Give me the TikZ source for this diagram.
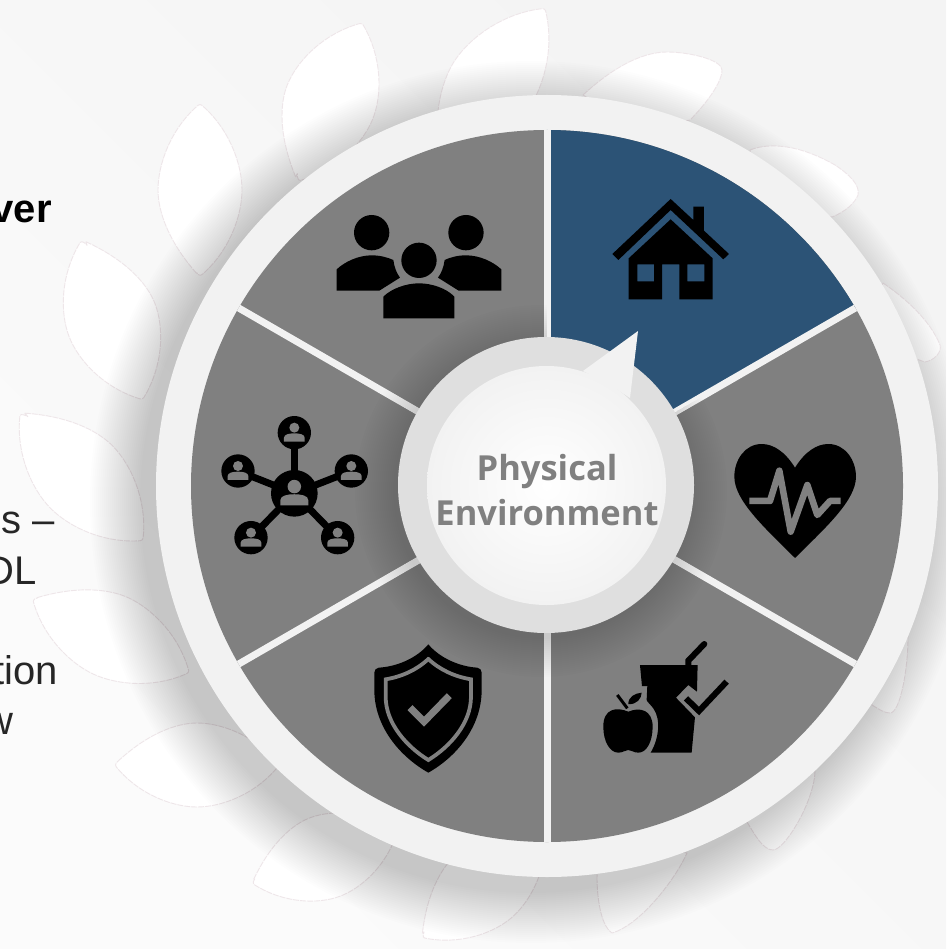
\documentclass[tikz,border=0pt]{standalone}
\usepackage{fontspec}
\setmainfont{Liberation Sans}
\newfontfamily\centerfont{Open Sans}
\definecolor{sectorgray}{HTML}{808080}
\definecolor{sectorblue}{HTML}{2C5376}
\definecolor{ringcol}{HTML}{F2F2F2}
\definecolor{hubcol}{HTML}{DFDFDF}
\definecolor{petaledge}{HTML}{EEE6E9}
\tikzset{
  petal/.style={fill=white,draw=petaledge,line width=0.9pt,dash pattern=on 6pt off 1pt,line join=round},
  sidetext/.style={anchor=base east,inner sep=0pt,text=black!85,font=\fontsize{40}{48}\selectfont},
}
\newcommand{\leafshape}[5]{%
  \path[petal,shift={(#1,#2)},rotate=#3,xscale=#4,yscale=#5]
   (-.97,-.08) .. controls (-.6,-.75) and (-.25,-1) .. (0,-1) .. controls (.3,-1) and (.7,-.7) .. (.97,-.08)
   .. controls (1,-.02) and (1,.02) .. (.97,.08) .. controls (.7,.7) and (.3,1) .. (0,1)
   .. controls (-.3,1) and (-.7,.7) .. (-.97,.08) .. controls (-1,.02) and (-1,-.02) .. cycle;}
\newcommand{\netperson}[3]{%
  \begin{scope}[shift={(#1,#2)},scale=#3]
   \fill[sectorgray] (0,-15) circle[radius=15];
   \fill[sectorgray] (-31,27) -- (-31,15) .. controls (-31,5) and (-15,2) .. (0,2) .. controls (15,2) and (31,5) .. (31,15) -- (31,27) -- cycle;
  \end{scope}}
\begin{document}
\begin{tikzpicture}[x=1pt,y=-1pt]
\useasboundingbox (0,0) rectangle (946,949);
\clip (0,0) rectangle (946,949);
\shade[left color=black!4.5,right color=black!1.5,shading angle=-45] (0,0) rectangle (946,949);
% petals
\leafshape{200}{190}{90}{86}{42}
\leafshape{112}{320}{-69}{85}{46}
\leafshape{81.5}{477}{-46}{88}{44}
\leafshape{111}{636}{-25}{86}{42}
\leafshape{197}{765}{0}{82}{42}
\leafshape{325}{857}{20}{77}{42}
\leafshape{484}{886}{40}{80}{42}
\leafshape{330}{102}{68}{85}{46}
\leafshape{492}{84}{55}{92}{44}
\path[petal] (597,877) .. controls (597,895) and (600,925) .. (612,933) .. controls (640,925) and (675,880) .. (687,853) -- (600,840) -- cycle;
\path[petal] (747,822) .. controls (755,835) and (763,850) .. (773,850) .. controls (785,850) and (815,800) .. (815,770) -- (760,770) -- cycle;
\path[petal] (872,705) .. controls (880,710) and (885,713) .. (890,713) .. controls (900,713) and (908,670) .. (908,637) -- (860,640) -- cycle;
\path[petal] (883,283) .. controls (905,298) and (930,320) .. (940,345) .. controls (942,352) and (935,360) .. (925,362) -- (860,340) -- cycle;
\path[petal] (750,150) .. controls (770,142) and (800,145) .. (835,165) .. controls (850,175) and (860,185) .. (858,195) .. controls (855,203) and (845,212) .. (832,217) -- (760,200) -- cycle;
\path[petal] (583,95) .. controls (610,70) and (640,52) .. (667,52) .. controls (690,52) and (722,60) .. (722,70) .. controls (722,85) and (700,110) .. (690,120) -- (640,130) -- cycle;
% side text
\node[sidetext,font=\fontsize{40}{48}\selectfont\bfseries,text=black] (tover) at (52,223) {ver};
\node[sidetext] (tes) at (55,533) {es –};
\node[sidetext] (tdl) at (37,584) {DL};
\node[sidetext] (ttion) at (58,684) {tion};
\node[sidetext] (tw) at (14,734) {w};
% ring shadow
\foreach \r in {391,393,...,441}{\fill[black,opacity=.0075] (531,502) circle[radius=\r];}
% ring
\fill[ringcol] (547,486) circle[radius=391];
% pie
\fill[sectorgray] (547,486) circle[radius=356];
\begin{scope}
 \clip (547,486) circle[radius=356];
 \fill[sectorblue] (547,486) -- (893,286) -- (893,100) -- (547,100) -- cycle;
 \foreach \a in {-90,-30,30,90,150,210}{\draw[ringcol,line width=7pt] (547,486) -- ++(\a:360);}
 \begin{scope}
  \clip (547,486) -- (547,0) -- (0,0) -- (0,949) -- (946,949) -- (946,256) -- cycle;
  \foreach \r in {148,150,...,186}{\fill[black,opacity=.006] (541,491) circle[radius=\r];}
 \end{scope}
\end{scope}
% hub
\fill[hubcol] (546,485) circle[radius=148];
\shade[inner color=white,outer color=ringcol] (546.5,485.5) circle[radius=119.5];
\fill[ringcol] (583,371) -- (638,331) -- (630,398) -- (610,385) -- cycle;
\node[inner sep=0pt,align=center,text=sectorgray,font=\fontsize{34.5}{45}\selectfont\centerfont\bfseries] (hub) at (547,490) {Physical\\Environment};
% people icon
\begin{scope}[shift={(300,180)},scale=0.3333]
 \fill (215,158) circle[radius=53];
 \fill (498,158) circle[radius=53];
 \fill (357,241) circle[radius=53];
 \fill (250,415) -- (250,350) .. controls (275,325) and (320,310) .. (357,310) .. controls (395,310) and (440,325) .. (463,350) -- (463,415) -- cycle;
 \fill (110,332) -- (110,268) .. controls (135,245) and (175,226) .. (215,226) .. controls (240,226) and (262,232) .. (280,240) .. controls (283,262) and (290,280) .. (300,293) -- (238,332) -- cycle;
 \fill (604,332) -- (604,268) .. controls (579,245) and (539,226) .. (498,226) .. controls (473,226) and (451,232) .. (434,240) .. controls (431,262) and (424,280) .. (414,293) -- (476,332) -- cycle;
\end{scope}
% house icon
\begin{scope}[shift={(560,170)},scale=0.3333]
 \fill (332,87) -- (157,252) -- (175,270) -- (332,120) -- (490,268) -- (507,252) -- (432,182) -- (432,110) -- (400,110) -- (400,150) -- cycle;
 \fill[even odd rule] (332,148) -- (458,265) -- (458,388) -- (358,388) -- (358,283) -- (306,283) -- (306,388) -- (206,388) -- (206,265) -- cycle
   (232,283) rectangle (282,334) (382,283) rectangle (433,334);
\end{scope}
% heart icon
\begin{scope}[shift={(720,420)},scale=0.3333]
 \fill (225,143) .. controls (195,95) and (160,72) .. (125,72) .. controls (75,72) and (43,120) .. (43,170) .. controls (43,240) and (130,320) .. (225,414)
   .. controls (320,320) and (408,240) .. (408,170) .. controls (408,120) and (375,72) .. (325,72) .. controls (290,72) and (255,95) .. cycle;
 \draw[sectorgray,line width=6.5pt,line join=round] (88,243) -- (150,243) -- (178,152) -- (212,335) -- (262,195) -- (292,285) -- (330,243) -- (362,243);
\end{scope}
% network icon
\begin{scope}[shift={(200,400)},scale=0.3333]
 \foreach \p/\q in {283/98,114/213,454/213,153/413,413/413}{
  \draw[line width=7pt] (283,280) -- (\p,\q);
  \fill (\p,\q) circle[radius=50];
  \netperson{\p}{\q}{1}
 }
 \fill (283,280) circle[radius=70];
 \netperson{283}{280}{1.35}
\end{scope}
% shield icon
\begin{scope}[shift={(360,630)},scale=0.3333]
 \fill (205,43) .. controls (240,85) and (300,110) .. (352,113) .. controls (360,114) and (365,120) .. (365,128) -- (365,180) .. controls (365,290) and (290,380) .. (205,428)
   .. controls (120,380) and (43,290) .. (43,180) -- (43,128) .. controls (43,120) and (48,114) .. (56,113) .. controls (110,110) and (170,85) .. cycle;
 \draw[sectorgray,line width=3.8pt,line join=miter] (205,87) .. controls (240,120) and (285,140) .. (333,148) -- (333,200) .. controls (333,280) and (270,350) .. (205,390)
   .. controls (140,350) and (77,280) .. (77,200) -- (77,148) .. controls (125,140) and (170,120) .. cycle;
 \draw[sectorgray,line width=7pt] (150,233) -- (192,275) -- (268,197);
\end{scope}
% food icon
\begin{scope}[shift={(360,630)},scale=0.3333]
 \fill (840,105) -- (1013,105) -- (1011,185) -- (985,165) -- (948,203) -- (1005,262) -- (995,368) -- (872,368) .. controls (895,330) and (905,270) .. (880,235) .. controls (870,222) and (862,216) .. (860,210) -- (862,168) -- (846,168) -- cycle;
 \draw[line width=6pt] (978,205) -- (1017,243) -- (1100,155);
 \draw[line width=6pt,line cap=round] (1033,42) -- (985,92) -- (985,105);
 \fill (805,245) .. controls (770,230) and (730,235) .. (730,290) .. controls (730,335) and (750,368) .. (775,368) .. controls (790,368) and (795,360) .. (805,360) .. controls (815,360) and (820,368) .. (835,368) .. controls (860,368) and (878,335) .. (878,290) .. controls (878,240) and (840,230) .. cycle;
 \draw[line width=3pt] (772,195) -- (802,235);
 \fill (805,222) .. controls (805,200) and (825,190) .. (845,188) .. controls (845,205) and (830,225) .. cycle;
\end{scope}
\end{tikzpicture}
\end{document}
